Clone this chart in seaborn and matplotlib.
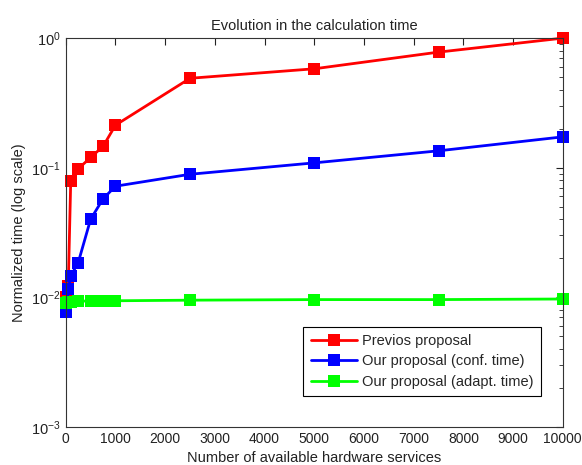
import pandas as pd
import numpy as np
import matplotlib
matplotlib.use("Agg")
import matplotlib.pyplot as plt
import seaborn as sns

# values
services = [10, 50, 100, 250, 500, 750, 1000, 2500, 5000, 7500, 10000]
previous = [0.0100, 0.0122, 0.079, 0.098, 0.120, 0.146, 0.213, 0.49, 0.58, 0.78, 1.0]
conf_time = [0.0077, 0.0115, 0.0146, 0.0185, 0.040, 0.0575, 0.072, 0.089, 0.109, 0.135, 0.173]
adapt_time = [0.0090, 0.0092, 0.0092, 0.0093, 0.0094, 0.0094, 0.0094, 0.0095, 0.0096, 0.0096, 0.0097]

labels = ["Previos proposal", "Our proposal (conf. time)", "Our proposal (adapt. time)"]
colors = ["#ff0000", "#0000ff", "#00ff00"]

df = pd.DataFrame({
    "services": services * 3,
    "time": previous + conf_time + adapt_time,
    "series": [labels[0]] * len(services) + [labels[1]] * len(services) + [labels[2]] * len(services),
})

sns.set_style("white")
plt.rcParams["font.family"] = ["Liberation Sans", "DejaVu Sans"]
plt.rcParams["mathtext.fontset"] = "custom"
plt.rcParams["mathtext.rm"] = "Liberation Sans"
plt.rcParams["mathtext.it"] = "Liberation Sans"
plt.rcParams["xtick.direction"] = "in"
plt.rcParams["ytick.direction"] = "in"

fig = plt.figure(figsize=(5.82, 4.65), dpi=100)
ax = fig.add_axes([0.113, 0.082, 0.854, 0.836])

sns.lineplot(
    data=df, x="services", y="time", hue="series",
    palette=colors, marker="s", markersize=9, markeredgewidth=0,
    linewidth=2, ax=ax, legend=True,
)
# markers at the edges are drawn whole, as in the original
for line in ax.get_lines():
    line.set_clip_on(False)

ax.set_yscale("log")
ax.set_xlim(0, 10000)
ax.set_ylim(1e-3, 1)
ax.set_xticks(np.arange(0, 10001, 1000))
ax.set_xticklabels([str(v) for v in range(0, 10001, 1000)])

for s in ax.spines.values():
    s.set_color("#333333")
    s.set_linewidth(0.8)
ax.tick_params(axis="both", which="both", top=True, right=True, colors="#222222")
ax.tick_params(axis="x", labelsize=10)
ax.tick_params(axis="y", labelsize=10.5)
ax.tick_params(axis="both", which="major", length=5)
ax.tick_params(axis="y", which="minor", length=3)

ax.set_title("Evolution in the calculation time", fontsize=10.5, color="#222222")
ax.set_xlabel("Number of available hardware services", fontsize=10.5, color="#222222")
ax.set_ylabel("Normalized time (log scale)", fontsize=10.5, color="#222222")

leg = ax.legend(loc="lower right", bbox_to_anchor=(0.97, 0.06), fontsize=10.5,
                fancybox=False, framealpha=1, edgecolor="black",
                handlelength=3.2, handletextpad=0.3, borderpad=0.5, labelspacing=0.45)
leg.get_frame().set_linewidth(0.8)

fig.savefig("out.png", dpi=100)
